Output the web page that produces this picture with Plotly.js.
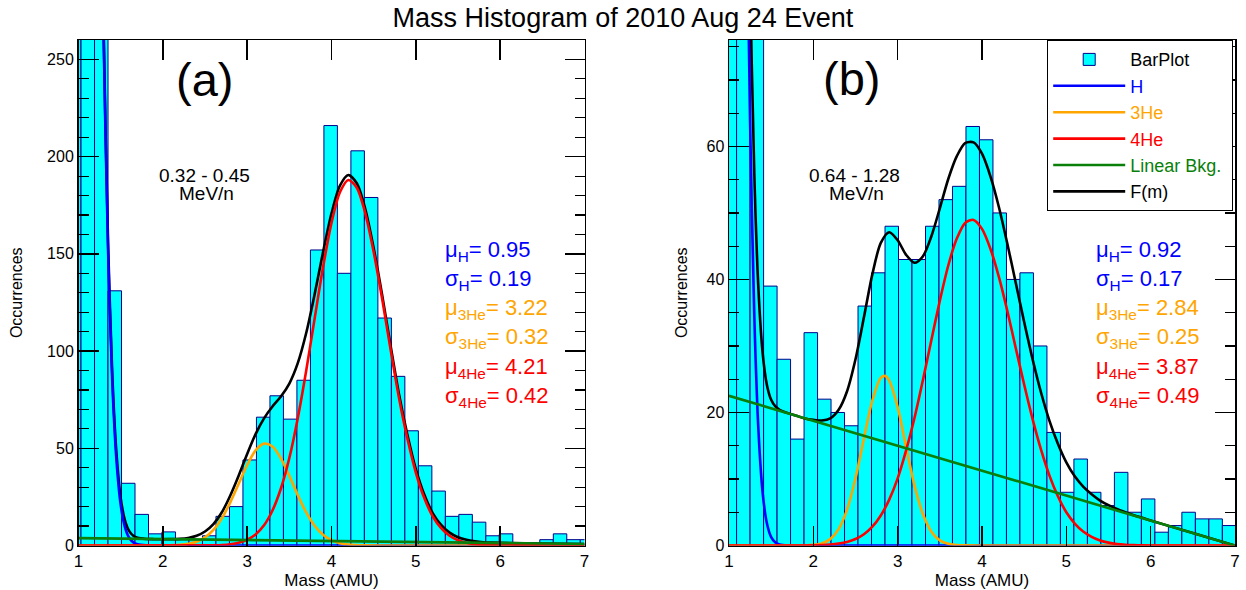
<!DOCTYPE html>
<html>
<head>
<meta charset="utf-8">
<script src="https://cdn.plot.ly/plotly-3.0.1.min.js"></script>
<style>html,body{margin:0;padding:0;background:#fff;}#chart{width:1246px;height:590px;}</style>
</head>
<body>
<div id="chart"></div>
<script>
// ---------- DATA ----------
// Panel (a): 0.32 - 0.45 MeV/n
const binsA = [0.95,1.11,1.27,1.43,1.59,1.75,1.91,2.07,2.23,2.39,2.55,2.71,2.87,3.03,3.19,3.35,3.51,3.67,3.83,3.99,4.15,4.31,4.47,4.63,4.79,4.95,5.11,5.27,5.43,5.59,5.75,5.91,6.07,6.23,6.39,6.55,6.71,6.87,7.03];
const countsA = [1300,1050,560,131,32,16,6,7,3,3,5,15,20,44,66,77,65,85,152,216,140,203,179,117,87,59,41,28,15,16,12,5,6,0,0,3,6,3,3];

const hXA = [1.0,1.05,1.1,1.15,1.2,1.25,1.3,1.35,1.4,1.45,1.5,1.55,1.6,1.65,1.7,1.8,1.9,2.0,7.0];
const hYA = [1352,1219,1025,805,589,403,257,153,85,44,21,9.6,4.0,1.6,0.6,0.06,0,0,0];

const he3XA = [1.0,2.0,2.2,2.3,2.4,2.5,2.6,2.7,2.8,2.9,3.0,3.1,3.2,3.3,3.4,3.5,3.6,3.7,3.8,3.9,4.0,4.1,4.2,4.3,4.4,4.6,7.0];
const he3YA = [0,0.01,0.33,0.84,1.97,4.2,8.0,14.0,22.2,31.8,41.4,48.9,52.4,50.9,44.8,35.8,25.9,17.0,10.2,5.5,2.7,1.2,0.48,0.18,0.06,0.01,0];

const he4XA = [1.0,2.5,2.6,2.7,2.8,2.9,3.0,3.1,3.2,3.3,3.4,3.5,3.6,3.7,3.8,3.9,4.0,4.1,4.2,4.3,4.4,4.5,4.6,4.7,4.8,4.9,5.0,5.1,5.2,5.3,5.4,5.5,5.6,5.7,5.8,5.9,6.0,7.0];
const he4YA = [0,0.05,0.12,0.29,0.67,1.45,2.96,5.7,10.4,18.0,29.3,45.0,65.5,89.9,116.7,143.2,165.9,181.7,188,184,171,151,127,101,76,55,37.5,24.4,15,8.9,5.0,2.7,1.4,0.7,0.3,0.15,0.07,0];

const bkgXA = [1.0,7.0];
const bkgYA = [3.8,0.8];

const fXA = [1.0,1.05,1.1,1.15,1.2,1.25,1.3,1.35,1.4,1.45,1.5,1.55,1.6,1.65,1.7,1.8,1.9,
  2.0,2.1,2.2,2.3,2.4,2.5,2.6,2.7,2.8,2.9,3.0,3.1,3.2,3.3,3.4,3.5,3.6,3.7,3.8,3.9,4.0,4.1,4.2,4.3,4.4,4.5,4.6,4.7,4.8,4.9,5.0,5.1,5.2,5.3,5.4,5.5,5.6,5.7,5.8,5.9,6.0,6.5,7.0];
const fYA = [1356,1223,1029,809,593,407,261,157,88.6,47.6,24.5,13.1,7.5,5.0,3.95,3.36,3.25,
  3.2,3.27,3.43,3.9,5.0,7.2,11.0,17.1,25.7,36.0,47.1,57.3,65.4,71.5,76.6,83.3,93.8,109.3,129.2,151.0,170.8,185.1,190.6,186.3,173.2,153,129,103,77.9,56.9,39.3,26.2,16.7,10.6,6.6,4.25,2.9,2.15,1.7,1.5,1.37,1.05,0.8];

// Panel (b): 0.64 - 1.28 MeV/n
const binsB = [1.01,1.17,1.33,1.49,1.65,1.81,1.97,2.13,2.29,2.45,2.61,2.77,2.93,3.09,3.25,3.41,3.57,3.73,3.89,4.05,4.21,4.37,4.53,4.69,4.85,5.01,5.17,5.33,5.49,5.65,5.81,5.97,6.13,6.29,6.45,6.61,6.77,6.93];
const countsB = [390,250,120,39,28,16,32,22,20,18,36,41,48,43,43,48,52,54,63,61,50,40,41,30,17,8,13,8,6,11,5,7,2,3,5,4,4,3];

const hXB = [1.0,1.05,1.1,1.15,1.2,1.25,1.3,1.35,1.4,1.45,1.5,1.55,1.6,1.7,2.0,7.0];
const hYB = [376,314,240,168,108,63.8,34.5,17.1,7.8,3.3,1.25,0.44,0.14,0.01,0,0];

const he3XB = [1.0,1.9,2.0,2.1,2.2,2.3,2.4,2.5,2.6,2.7,2.8,2.85,2.9,3.0,3.1,3.2,3.3,3.4,3.5,3.6,3.7,3.8,4.0,7.0];
const he3YB = [0,0.01,0.09,0.32,0.96,2.47,5.4,10.1,16.1,21.8,25.2,25.5,24.8,20.8,14.8,9.0,4.7,2.08,0.78,0.25,0.07,0.02,0,0];

const he4XB = [1.0,2.0,2.2,2.3,2.4,2.5,2.6,2.7,2.8,2.9,3.0,3.1,3.2,3.3,3.4,3.5,3.6,3.7,3.8,3.9,4.0,4.1,4.2,4.3,4.4,4.5,4.6,4.7,4.8,4.9,5.0,5.1,5.2,5.3,5.4,5.5,5.6,5.7,5.8,5.9,6.0,7.0];
const he4YB = [0,0.03,0.15,0.29,0.54,0.98,1.70,2.83,4.52,6.9,10.1,14.3,19.2,24.9,30.9,36.8,42.1,46.1,48.5,48.95,47.6,44.6,40.4,35.3,29.7,24.2,19.0,14.4,10.5,7.4,5.0,3.3,2.1,1.3,0.76,0.43,0.23,0.12,0.06,0.03,0.01,0];

const bkgXB = [1.0,7.0];
const bkgYB = [22.5,0.0];

const fXB = [1.0,1.05,1.1,1.15,1.2,1.25,1.3,1.35,1.4,1.45,1.5,1.55,1.6,1.7,1.8,1.9,
  2.0,2.1,2.2,2.3,2.4,2.5,2.6,2.7,2.8,2.9,3.0,3.1,3.2,3.3,3.4,3.5,3.6,3.7,3.8,3.9,4.0,4.1,4.2,4.3,4.4,4.5,4.6,4.7,4.8,4.9,5.0,5.1,5.2,5.3,5.4,5.5,5.6,5.7,5.8,5.9,6.0,6.5,7.0];
const fYB = [398.5,336,262,190,129.8,85.4,55.9,38.3,28.8,24.1,21.9,20.9,20.4,19.9,19.5,19.1,
  18.9,18.8,19.1,20.4,23.2,28.0,34.3,40.8,45.5,47.1,45.9,43.7,42.5,43.5,46.5,50.7,55.1,58.5,60.5,60.6,58.9,55.5,50.9,45.4,39.5,33.6,28.0,23.0,18.75,15.3,12.5,10.4,8.85,7.7,6.76,6.06,5.48,5.0,4.56,4.16,3.76,1.875,0];

// Text labels
const mainTitle = 'Mass Histogram of 2010 Aug 24 Event';
const panelLabels = ['(a)','(b)'];
const energyLabels = ['0.32 - 0.45','0.64 - 1.28'];
const paramA = ['μ<sub>H</sub>= 0.95','σ<sub>H</sub>= 0.19','μ<sub>3He</sub>= 3.22','σ<sub>3He</sub>= 0.32','μ<sub>4He</sub>= 4.21','σ<sub>4He</sub>= 0.42'];
const paramB = ['μ<sub>H</sub>= 0.92','σ<sub>H</sub>= 0.17','μ<sub>3He</sub>= 2.84','σ<sub>3He</sub>= 0.25','μ<sub>4He</sub>= 3.87','σ<sub>4He</sub>= 0.49'];
const xTicks = [1,2,3,4,5,6,7];

// ---------- STYLE ----------
const W = 1246, H = 590;
const px = v => v / W;
const py = v => 1 - v / H;
const C = {bar:'#00ffff', barLine:'#00008b', H:'#0000ff', he3:'#ffa500', he4:'#ff0000', bkg:'#0a7f0a', F:'#000000'};
const paramColors = [C.H, C.H, C.he3, C.he3, C.he4, C.he4];
const FONT = 'Liberation Sans, Arial, Helvetica, sans-serif';
const PAD = '\u00a0';

function bars(x, y, xa, ya, show) {
  return {type:'bar', x:x, y:y, width:0.16, xaxis:xa, yaxis:ya,
    marker:{color:C.bar, line:{color:C.barLine, width:1}},
    name:'BarPlot', showlegend:show, legendrank:1, hoverinfo:'x+y'};
}
function curve(x, y, color, name, xa, ya, show, rank) {
  return {type:'scatter', mode:'lines', x:x, y:y, xaxis:xa, yaxis:ya,
    line:{color:color, width:2.6, shape:'spline', smoothing:0.8},
    name:'<span style="color:' + color + '">' + name + '</span>', showlegend:show, legendrank:rank};
}

const traces = [
  bars(binsA, countsA, 'x', 'y', false),
  curve(fXA, fYA, C.F, 'F(m)', 'x', 'y', false, 6),
  curve(hXA, hYA, C.H, 'H', 'x', 'y', false, 2),
  curve(he3XA, he3YA, C.he3, '3He', 'x', 'y', false, 3),
  curve(he4XA, he4YA, C.he4, '4He', 'x', 'y', false, 4),
  curve(bkgXA, bkgYA, C.bkg, 'Linear Bkg.', 'x', 'y', false, 5),
  bars(binsB, countsB, 'x2', 'y2', true),
  curve(fXB, fYB, C.F, 'F(m)', 'x2', 'y2', true, 6),
  curve(hXB, hYB, C.H, 'H', 'x2', 'y2', true, 2),
  curve(he3XB, he3YB, C.he3, '3He', 'x2', 'y2', true, 3),
  curve(he4XB, he4YB, C.he4, '4He', 'x2', 'y2', true, 4),
  curve(bkgXB, bkgYB, C.bkg, 'Linear Bkg.' + PAD, 'x2', 'y2', true, 5)
];

function xAxis(domain, anchor) {
  return {domain:domain, anchor:anchor, range:[1,7], tickvals:xTicks, ticktext:xTicks.map(String),
    ticks:'inside', ticklen:20, tickwidth:1.5, tickcolor:'#000',
    showline:true, linecolor:'#000', linewidth:1.5, mirror:'ticks',
    showgrid:false, zeroline:false, tickfont:{size:17, color:'#000'},
    title:{text:'Mass (AMU)', font:{size:17, color:'#000'}, standoff:3}};
}
function yAxis(domain, anchor, range, dtick, minorDtick, standoff) {
  return {domain:domain, anchor:anchor, range:range, dtick:dtick, tick0:0,
    ticks:'inside', ticklen:20, tickwidth:1.5, tickcolor:'#000',
    minor:{dtick:minorDtick, ticks:'inside', ticklen:10, tickwidth:1.2, tickcolor:'#000', showgrid:false},
    showline:true, linecolor:'#000', linewidth:1.5, mirror:'ticks',
    showgrid:false, zeroline:false, tickfont:{size:16, color:'#000'},
    title:{text:'Occurrences', font:{size:16, color:'#000'}, standoff:standoff}};
}

const yDom = [py(545.5), py(40)];
const annotations = [];
function ann(text, x, y, size, color, xanchor) {
  annotations.push({text:text, x:px(x), y:py(y), xref:'paper', yref:'paper', showarrow:false,
    xanchor:xanchor || 'center', yanchor:'middle', font:{size:size, color:color || '#000', family:FONT}});
}
ann(panelLabels[0], 204, 79, 47);
ann(panelLabels[1], 851, 78, 47);
ann(energyLabels[0], 204, 175, 19);
ann('MeV/n', 206, 194, 19);
ann(energyLabels[1], 854, 175, 19);
ann('MeV/n', 856, 194, 19);
const paramY = [251, 280, 309, 338, 368, 397];
paramA.forEach((t, i) => ann(t, 443, paramY[i], 22, paramColors[i], 'left'));
paramB.forEach((t, i) => ann(t, 1094, paramY[i], 22, paramColors[i], 'left'));

const layout = {
  width:W, height:H, margin:{l:0, r:0, t:0, b:0},
  paper_bgcolor:'#fff', plot_bgcolor:'#fff',
  font:{family:FONT, color:'#000'},
  title:{text:mainTitle, font:{size:27, color:'#000'}, x:0.5, xanchor:'center', y:py(18), yanchor:'middle', xref:'paper', yref:'paper'},
  bargap:0, barmode:'overlay',
  xaxis:xAxis([px(78.5), px(584.5)], 'y'),
  yaxis:yAxis(yDom, 'x', [0,260], 50, 10, 20),
  xaxis2:xAxis([px(729), px(1235)], 'y2'),
  yaxis2:yAxis(yDom, 'x2', [0,76], 20, 5, 15),
  showlegend:true,
  legend:{x:px(1047), y:py(40), xanchor:'left', yanchor:'top', bgcolor:'#fff', bordercolor:'#000', borderwidth:1.2,
    font:{size:18, color:'#000'}, itemwidth:72, tracegroupgap:0, traceorder:'normal'},
  annotations:annotations
};

Plotly.newPlot('chart', traces, layout, {staticPlot:true, displayModeBar:false});
</script>
</body>
</html>
